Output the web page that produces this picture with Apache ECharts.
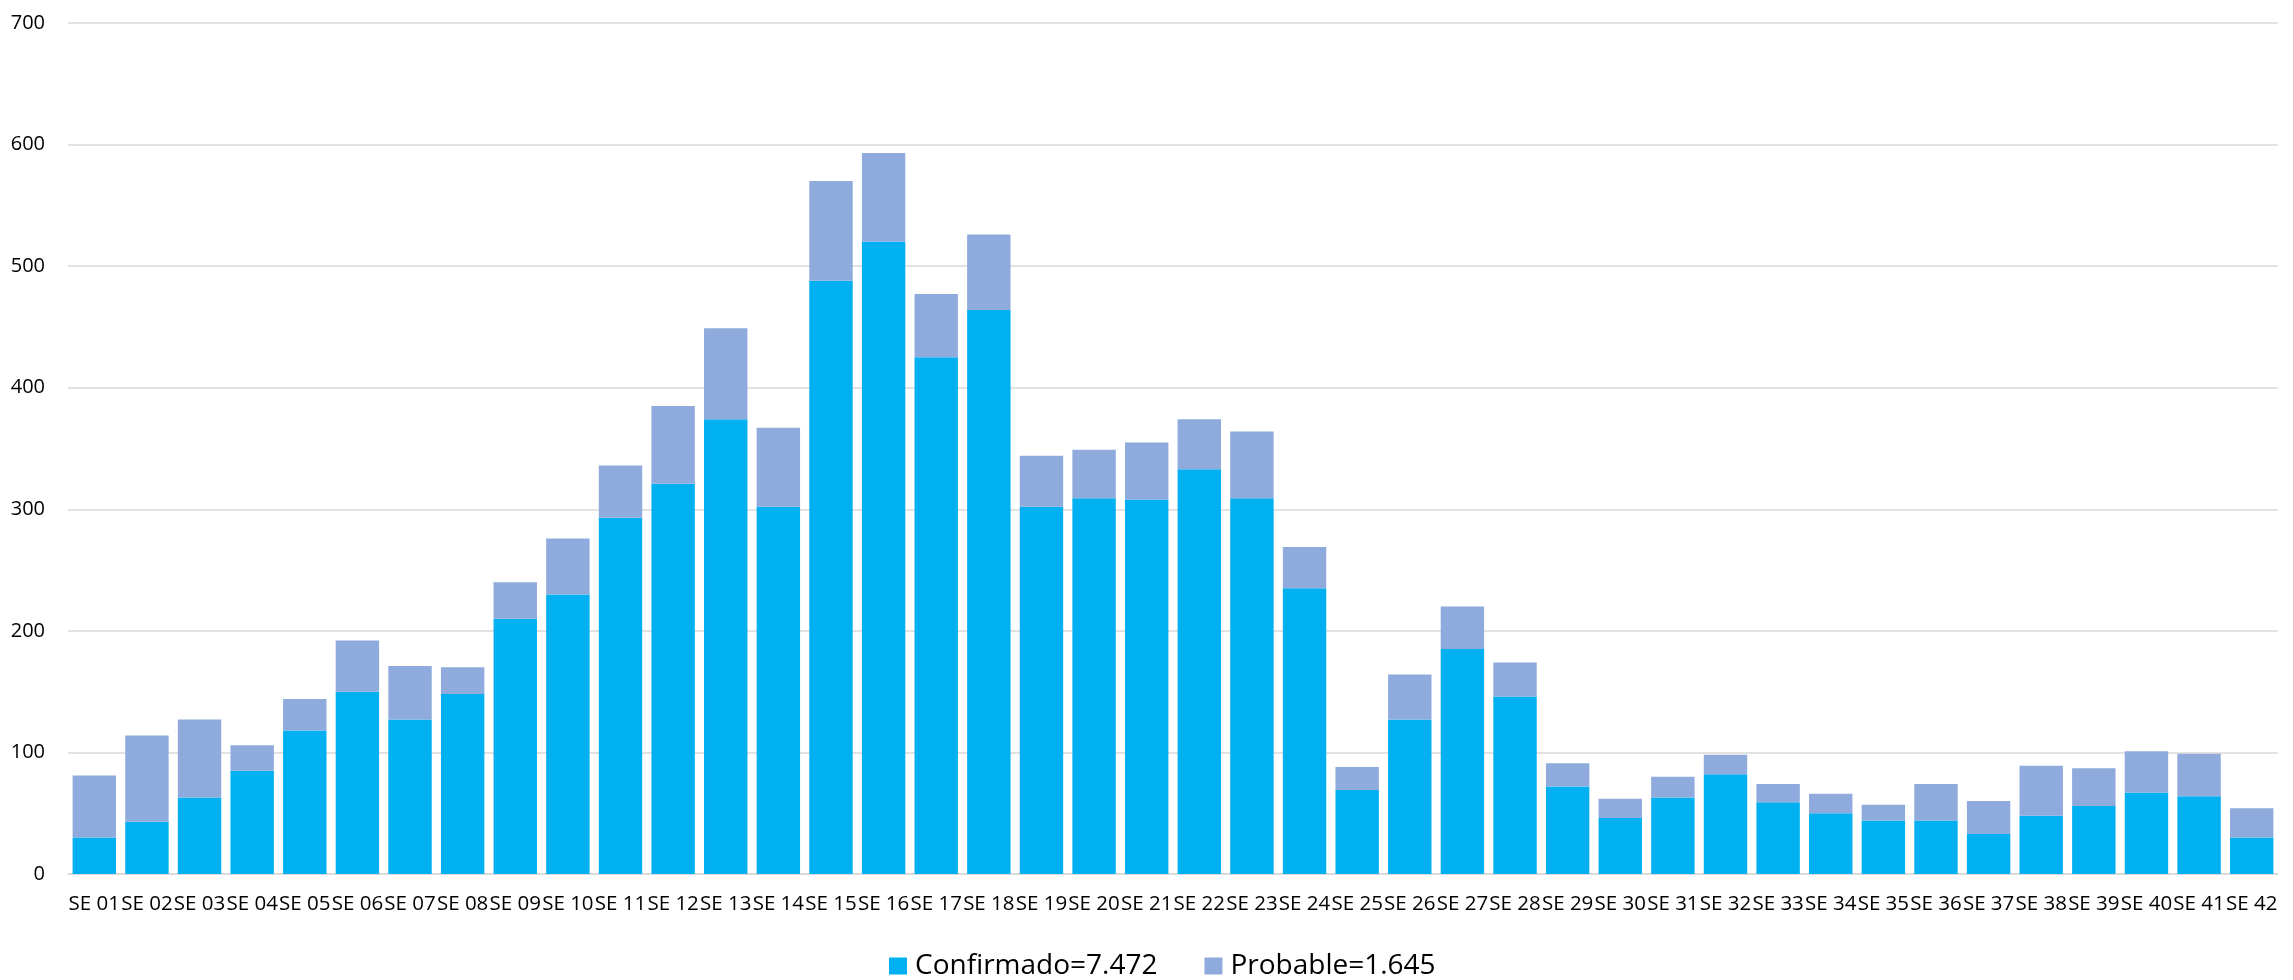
<!DOCTYPE html>
<html>
<head>
<meta charset="utf-8">
<script src="https://cdn.jsdelivr.net/npm/echarts@6/dist/echarts.min.js"></script>
<style>
html,body{margin:0;padding:0;background:#fff;}
#chart{width:2293px;height:980px;}
</style>
</head>
<body>
<div id="chart"></div>
<script>
const categories = ["SE 01","SE 02","SE 03","SE 04","SE 05","SE 06","SE 07","SE 08","SE 09","SE 10","SE 11","SE 12","SE 13","SE 14","SE 15","SE 16","SE 17","SE 18","SE 19","SE 20","SE 21","SE 22","SE 23","SE 24","SE 25","SE 26","SE 27","SE 28","SE 29","SE 30","SE 31","SE 32","SE 33","SE 34","SE 35","SE 36","SE 37","SE 38","SE 39","SE 40","SE 41","SE 42"];
const confirmado = [30,43,63,85,118,150,127,148,210,230,293,321,374,302,488,520,425,464,302,309,308,333,309,235,69,127,185,146,72,46,63,82,59,50,44,44,33,48,56,67,64,30];
const probable = [51,71,64,21,26,42,44,22,30,46,43,64,75,65,82,73,52,62,42,40,47,41,55,34,19,37,35,28,19,16,17,16,15,16,13,30,27,41,31,34,35,24];
const seriesNames = ["Confirmado=7.472","Probable=1.645"];
const yTicks = {min:0, max:700, interval:100};

const chart = echarts.init(document.getElementById('chart'), null, {renderer:'canvas'});
const font = "'Open Sans', sans-serif";
chart.setOption({
  animation:false,
  backgroundColor:'#ffffff',
  textStyle:{fontFamily:font},
  grid:{left:68, right:15, top:23, bottom:106, containLabel:false},
  legend:{
    data:seriesNames,
    left:884, top:947,
    itemWidth:18, itemHeight:17, itemGap:47,
    icon:'rect',
    textStyle:{fontFamily:font, fontSize:28, color:'#000', padding:[0,0,0,3]}
  },
  xAxis:{
    type:'category',
    data:categories,
    axisTick:{show:false},
    axisLine:{show:true, lineStyle:{color:'#D9D9D9', width:1.5}},
    axisLabel:{interval:0, fontFamily:font, fontSize:20.5, color:'#000', margin:20}
  },
  yAxis:{
    type:'value',
    min:yTicks.min, max:yTicks.max, interval:yTicks.interval,
    axisLine:{show:false},
    axisTick:{show:false},
    splitLine:{lineStyle:{color:'#D9D9D9', width:1.5}},
    axisLabel:{fontFamily:font, fontSize:20, color:'#000', margin:23}
  },
  series:[
    {name:seriesNames[0], type:'bar', stack:'t', data:confirmado, barCategoryGap:'17.5%', itemStyle:{color:'#00B0F0'}},
    {name:seriesNames[1], type:'bar', stack:'t', data:probable, barCategoryGap:'17.5%', itemStyle:{color:'#8FAADC'}}
  ]
});
</script>
</body>
</html>
